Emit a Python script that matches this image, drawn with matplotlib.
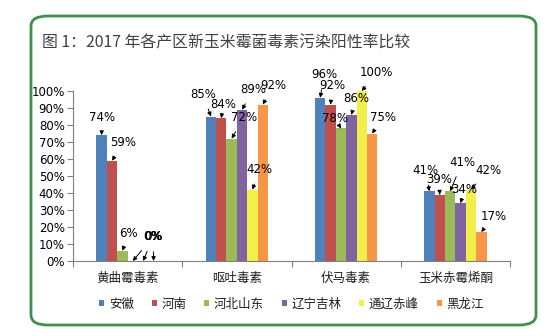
import matplotlib
matplotlib.use("Agg")
import matplotlib.pyplot as plt
from matplotlib.patches import FancyBboxPatch
import numpy as np

plt.rcParams['font.family'] = ['DejaVu Sans', 'Noto Sans CJK SC']

title = "图 1：2017 年各产区新玉米霉菌毒素污染阳性率比较"
categories = ["黄曲霉毒素", "呕吐毒素", "伏马毒素", "玉米赤霉烯酮"]
regions = ["安徽", "河南", "河北山东", "辽宁吉林", "通辽赤峰", "黑龙江"]
values = {
    "安徽":   [74, 85, 96, 41],
    "河南":   [59, 84, 92, 39],
    "河北山东": [6, 72, 78, 41],
    "辽宁吉林": [0, 89, 86, 34],
    "通辽赤峰": [0, 42, 100, 42],
    "黑龙江":  [0, 92, 75, 17],
}
colors = ["#4F81BD", "#C0504D", "#9BBB59", "#8064A2", "#F2EE4A", "#F79646"]

# label offsets (pixels) per region per category
offsets = {
    "安徽":   [(0, 18), (-8, 22), (4, 23), (-4, 21)],
    "河南":   [(11, 18), (2, 14), (2, 19), (-1, 15)],
    "河北山东": [(6, 17), (12, 21), (-6, 10), (12, 29)],
    "辽宁吉林": [(20, 24), (11, 20), (5, 16), (4, 14)],
    "通辽赤峰": [(10, 24), (7, 20), (15, 18), (17, 19)],
    "黑龙江":  [(0, 24), (10, 19), (11, 16), (12, 16)],
}

fig = plt.figure(figsize=(5.57, 3.36), dpi=100)
fig.patch.set_facecolor('white')

box = FancyBboxPatch((31/557, 1-325/336), (536-31)/557, (325-16)/336,
                     boxstyle="round,pad=0,rounding_size=0.03",
                     transform=fig.transFigure, facecolor='none',
                     edgecolor='#3F8F4F', linewidth=2.0, zorder=0)
fig.patches.append(box)

fig.text(42/557, 1-43/336, title, fontsize=11.4, color='#404040',
         family=['Noto Sans CJK SC', 'DejaVu Sans'], va='center', ha='left')

ax = fig.add_axes([73/557, 1-261/336, (510-73)/557, (261-91)/336])
ax.set_facecolor('none')
ax.set_zorder(2)

n = len(regions)
bw = 0.095
x = np.arange(len(categories))
for i, r in enumerate(regions):
    xs = x + (i - (n-1)/2) * bw
    ax.bar(xs, values[r], width=bw, color=colors[i], label=r, zorder=2)
    for j, (xx, v) in enumerate(zip(xs, values[r])):
        dx, dy = offsets[r][j]
        ax.annotate(f"{v}%", xy=(xx, v), xytext=(dx, dy), textcoords='offset pixels',
                    ha='center', va='center', fontsize=8.5, color='black',
                    arrowprops=dict(arrowstyle='-|>', color='black', lw=0.7,
                                    mutation_scale=6, shrinkA=4, shrinkB=0),
                    zorder=5)

ax.set_xlim(-0.5, len(categories) - 0.5)
ax.set_ylim(0, 100)
ax.set_yticks(np.arange(0, 101, 10))
ax.set_yticklabels([f"{t}%" for t in range(0, 101, 10)], fontsize=8.5)
ax.set_xticks(np.arange(-0.5, len(categories), 1.0))
ax.set_xticklabels([])
ax.set_xticks(x, minor=True)
ax.set_xticklabels(categories, minor=True, fontsize=9, color='#202020',
                   family=['Noto Sans CJK SC', 'DejaVu Sans'])
ax.tick_params(axis='x', which='minor', length=0, pad=8)
ax.tick_params(axis='x', which='major', length=4, color='#808080', direction='out')
ax.tick_params(axis='y', length=4, color='#808080', direction='out', pad=2)
for s in ['top', 'right']:
    ax.spines[s].set_visible(False)
ax.spines['left'].set_color('#808080')
ax.spines['bottom'].set_color('#808080')

leg = ax.legend(loc='upper center', bbox_to_anchor=(0.5, -0.15), ncol=6,
                frameon=False, handlelength=0.4, handleheight=0.4,
                handletextpad=0.4, columnspacing=1.4,
                prop={'family': ['Noto Sans CJK SC', 'DejaVu Sans'], 'size': 9})
for t in leg.get_texts():
    t.set_color('#202020')

fig.savefig("out.png", dpi=100)
